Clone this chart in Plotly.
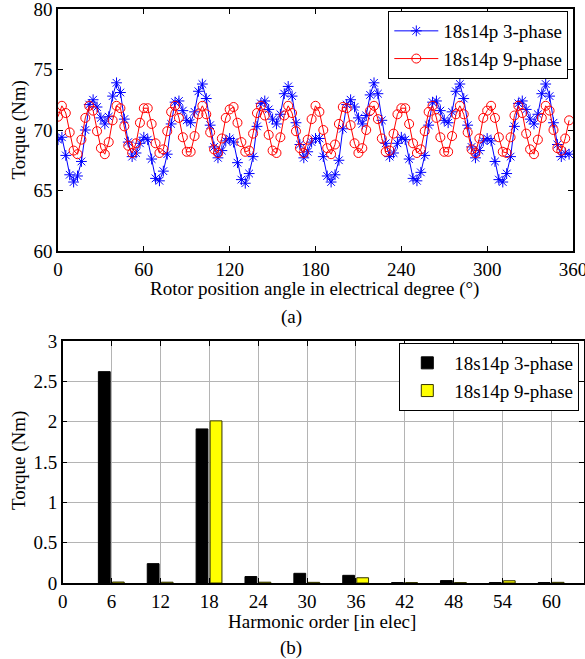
import plotly.graph_objects as go

# ---------------- data ----------------
n_samples = 132
angle_deg = [round(i * 360 / n_samples, 3) for i in range(n_samples)]

torque_3ph = [
    69.2, 69.4, 67.9, 66.3, 65.7, 66.2, 67.4, 70.0, 72.1, 72.5, 71.9, 71.0, 70.5, 71.1, 72.8, 73.9, 73.1, 70.9, 69.0, 67.8, 68.1, 68.9,
    69.4, 69.2, 67.6, 66.0, 65.8, 66.6, 68.0, 70.5, 72.3, 72.4, 71.6, 70.8, 70.6, 71.5, 73.2, 73.8, 72.6, 70.4, 68.6, 67.7, 68.3, 69.1,
    69.3, 69.0, 67.3, 65.9, 65.6, 66.4, 67.8, 70.3, 72.2, 72.4, 71.7, 70.9, 70.5, 71.3, 73.0, 73.6, 72.8, 70.6, 68.8, 67.7, 68.2, 69.0,
    69.3, 69.3, 67.8, 66.2, 65.7, 66.3, 67.5, 70.1, 72.1, 72.5, 71.9, 71.0, 70.5, 71.2, 72.9, 73.9, 73.0, 70.8, 68.9, 67.8, 68.1, 68.9,
    69.4, 69.2, 67.6, 66.0, 65.8, 66.5, 67.9, 70.4, 72.3, 72.4, 71.6, 70.8, 70.6, 71.5, 73.2, 73.8, 72.6, 70.4, 68.6, 67.7, 68.3, 69.1,
    69.3, 69.1, 67.4, 65.9, 65.7, 66.4, 67.8, 70.3, 72.2, 72.4, 71.7, 70.9, 70.5, 71.3, 73.0, 73.8, 72.8, 70.6, 68.8, 67.8, 68.1, 68.0,
]

torque_9ph = [
    71.1, 72.0, 71.4, 69.8, 68.3, 68.0, 69.2, 71.0, 72.0, 71.6, 69.9, 68.5, 68.0, 69.0, 70.8, 72.0, 71.8, 70.3, 68.7, 68.1, 68.9, 70.6,
    71.8, 71.8, 70.5, 68.9, 68.1, 68.4, 69.9, 71.5, 72.0, 71.0, 69.4, 68.2, 68.2, 69.5, 71.3, 72.0, 71.3, 69.8, 68.4, 68.1, 69.3, 71.0,
    71.7, 71.9, 70.6, 69.0, 68.2, 68.3, 69.7, 71.4, 72.0, 71.2, 69.6, 68.3, 68.1, 69.4, 71.2, 72.0, 71.4, 69.9, 68.5, 68.1, 69.2, 70.9,
    72.0, 71.5, 70.0, 68.5, 68.0, 68.8, 70.5, 71.9, 71.8, 70.4, 68.9, 68.1, 68.5, 70.0, 71.6, 72.0, 70.9, 69.3, 68.2, 68.3, 69.7, 71.3,
    71.8, 71.8, 70.5, 68.9, 68.1, 68.4, 69.9, 71.5, 72.0, 71.0, 69.4, 68.2, 68.2, 69.5, 71.3, 72.0, 71.3, 69.8, 68.4, 68.1, 69.3, 71.0,
    71.6, 72.0, 71.0, 69.4, 68.2, 68.1, 69.4, 71.2, 72.0, 71.4, 69.7, 68.4, 68.0, 69.2, 71.0, 72.0, 71.6, 70.0, 68.5, 68.3, 69.3, 70.8,
]

harmonic_order = [6, 12, 18, 24, 30, 36, 42, 48, 54, 60]
harm_3ph = [2.62, 0.24, 1.91, 0.08, 0.12, 0.095, 0.005, 0.03, 0.005, 0.005]
harm_9ph = [0.012, 0.01, 2.01, 0.01, 0.008, 0.065, 0.006, 0.006, 0.028, 0.008]

top_xticks = [0, 60, 120, 180, 240, 300, 360]
top_yticks = [60, 65, 70, 75, 80]
bot_xticks = [0, 6, 12, 18, 24, 30, 36, 42, 48, 54, 60]
bot_yticks = [0, 0.5, 1, 1.5, 2, 2.5, 3]

name_3ph = "18s14p 3-phase"
name_9ph = "18s14p 9-phase"

# ---------------- figure ----------------
W, H = 585, 659
FONT = "Liberation Serif"
FS = 19

fig = go.Figure()

fig.add_trace(go.Scatter(
    x=angle_deg, y=torque_3ph, mode="lines+markers", name=name_3ph,
    line=dict(color="#0000ff", width=1),
    marker=dict(symbol="asterisk-open", size=9, color="#0000ff",
                line=dict(color="#0000ff", width=1)),
    xaxis="x", yaxis="y", legend="legend",
))
fig.add_trace(go.Scatter(
    x=angle_deg, y=torque_9ph, mode="lines+markers", name=name_9ph,
    line=dict(color="#ff0000", width=1),
    marker=dict(symbol="circle-open", size=9, color="#ff0000",
                line=dict(color="#ff0000", width=1)),
    xaxis="x", yaxis="y", legend="legend",
))

fig.add_trace(go.Bar(
    x=harmonic_order, y=harm_3ph, name=name_3ph,
    width=1.45, offset=-1.62,
    marker=dict(color="#000000", line=dict(color="#000000", width=1)),
    xaxis="x2", yaxis="y2", legend="legend2",
))
fig.add_trace(go.Bar(
    x=harmonic_order, y=harm_9ph, name=name_9ph,
    width=1.45, offset=0.1,
    marker=dict(color="#ffff00", line=dict(color="#333300", width=1)),
    xaxis="x2", yaxis="y2", legend="legend2",
))

axis_common = dict(
    showline=True, linecolor="black", linewidth=1.5, mirror="ticks",
    ticks="inside", ticklen=5, tickcolor="black", tickwidth=1,
    zeroline=False, automargin=False, ticklabeloverflow="allow",
    tickfont=dict(family=FONT, size=FS, color="black"),
)

fig.update_layout(
    width=W, height=H,
    margin=dict(l=0, r=0, t=0, b=0, pad=0, autoexpand=False),
    paper_bgcolor="white", plot_bgcolor="white",
    font=dict(family=FONT, size=FS, color="black"),
    barmode="overlay",
    xaxis=dict(domain=[58 / W, 573 / W], range=[0, 360], tickvals=top_xticks,
               showgrid=False, anchor="y", **axis_common),
    yaxis=dict(domain=[1 - 251 / H, 1 - 9 / H], range=[60, 80], tickvals=top_yticks,
               showgrid=False, anchor="x", **axis_common),
    xaxis2=dict(domain=[62.7 / W, 584 / W], range=[0, 64], tickvals=bot_xticks,
                showgrid=True, gridcolor="#b4b4b4", gridwidth=1, anchor="y2", **axis_common),
    yaxis2=dict(domain=[1 - 583 / H, 1 - 341 / H], range=[0, 3], tickvals=bot_yticks,
                showgrid=True, gridcolor="#b4b4b4", gridwidth=1, anchor="x2", **axis_common),
    legend=dict(x=568.3 / W, y=1 - 11 / H, xanchor="right", yanchor="top",
                bordercolor="black", borderwidth=1, bgcolor="white",
                font=dict(family=FONT, size=FS, color="black"),
                tracegroupgap=0, itemwidth=44),
    legend2=dict(x=579.3 / W, y=1 - 343 / H, xanchor="right", yanchor="top",
                 bordercolor="black", borderwidth=1, bgcolor="white",
                 font=dict(family=FONT, size=FS, color="black"),
                 tracegroupgap=0, itemwidth=44),
    showlegend=True,
)

annotations = [
    dict(text="Rotor position angle in electrical degree (°)", x=314 / W, y=1 - 289 / H),
    dict(text="(a)", x=291 / W, y=1 - 317 / H),
    dict(text="Harmonic order [in elec]", x=322 / W, y=1 - 621 / H),
    dict(text="(b)", x=291 / W, y=1 - 648 / H),
    dict(text="Torque (Nm)", x=18.5 / W, y=1 - 130 / H, textangle=-90),
    dict(text="Torque (Nm)", x=19 / W, y=1 - 461 / H, textangle=-90),
]
for a in annotations:
    fig.add_annotation(xref="paper", yref="paper", showarrow=False,
                       xanchor="center", yanchor="middle",
                       font=dict(family=FONT, size=FS, color="black"), **a)

fig.write_html(
    "out.html",
    config={"displayModeBar": False},
    post_script="document.body.style.margin='0px';document.body.style.overflow='hidden';",
)
